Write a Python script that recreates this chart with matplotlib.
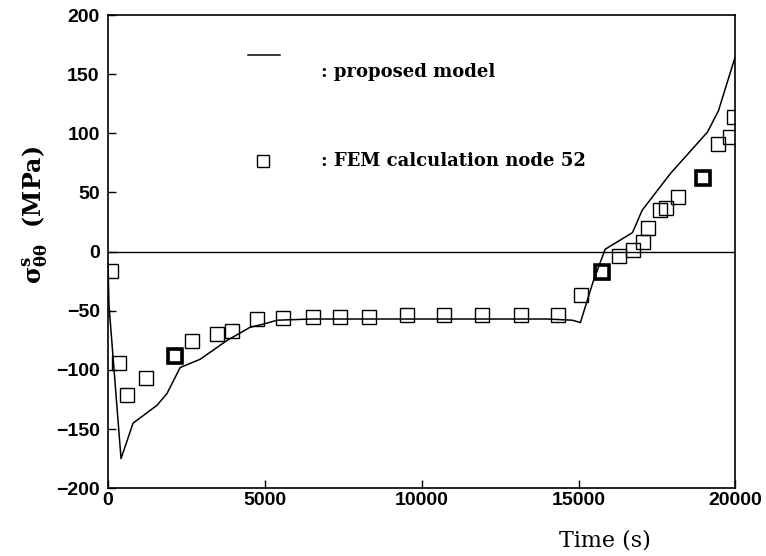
import numpy as np
import matplotlib.pyplot as plt

plt.rc('font', family='Liberation Sans', weight='bold', size=14)
plt.rc('mathtext', fontset='dejavuserif', default='bf')

# proposed model (line)
model_t = [0, 30, 415, 800, 1560, 1880, 2300, 2940, 3800, 4530, 5000, 5390,
           6500, 8000, 10000, 12000, 14000, 14800, 15060, 15470, 15850, 16720,
           17030, 17930, 19110, 19460, 19940, 20000]
model_s = [-10, -45, -175, -145, -130, -120, -98, -91, -75, -64, -61, -58,
           -57, -57, -57, -57, -57, -58, -60, -25, 2, 16,
           35, 66, 101, 119, 160, 165]

# FEM calculation node 52 (squares)
fem_t = [100, 350, 610, 1210, 2140, 2690, 3470, 3950, 4750, 5590, 6550, 7400,
         8330, 9540, 10720, 11930, 13170, 14360, 15090, 15760, 16300, 16750,
         17070, 17230, 17610, 17800, 18180, 18980, 19460, 19840, 19950]
fem_s = [-16, -94, -121, -107, -88, -76, -70, -67, -57, -56, -55, -55,
         -55, -54, -54, -54, -54, -54, -37, -17, -4, 1,
         8, 20, 35, 37, 46, 62, 91, 97, 114]
fem_bold = [2140, 15760, 18980]

fig = plt.figure(figsize=(7.66, 5.56), dpi=100)
ax = fig.add_axes([0.141, 0.122, 0.819, 0.851])

ax.axhline(0, color='black', linewidth=1.0, zorder=1)
ax.plot(model_t, model_s, color='black', linewidth=1.1, zorder=2)

ax.plot(fem_t, fem_s, linestyle='none', marker='s', markersize=10,
        markerfacecolor='none', markeredgecolor='black', markeredgewidth=1.0, zorder=3)
bt = [t for t in fem_t if t in fem_bold]
bs = [s for t, s in zip(fem_t, fem_s) if t in fem_bold]
ax.plot(bt, bs, linestyle='none', marker='s', markersize=10,
        markerfacecolor='none', markeredgecolor='black', markeredgewidth=2.6, zorder=4)

# hand-made legend
ax.plot([4470, 5490], [166, 166], color='black', linewidth=1.1)
ax.text(6800, 152, ': proposed model', family='DejaVu Serif', weight='bold',
        fontsize=13, va='center', ha='left')
ax.plot([4950], [77], linestyle='none', marker='s', markersize=8,
        markerfacecolor='none', markeredgecolor='black', markeredgewidth=1.0)
ax.text(6800, 77, ': FEM calculation node 52', family='DejaVu Serif', weight='bold',
        fontsize=13, va='center', ha='left')

ax.set_xlim(0, 20000)
ax.set_ylim(-200, 200)
ax.set_xticks([0, 5000, 10000, 15000, 20000])
ax.set_yticks([-200, -150, -100, -50, 0, 50, 100, 150, 200])
ax.tick_params(direction='in', length=6, width=1.0)
ax.tick_params(axis='x', pad=3)
ax.tick_params(axis='y', pad=6)
for sp in ax.spines.values():
    sp.set_linewidth(1.2)

fig.text(605 / 766, 1 - 540 / 556, 'Time (s)', family='DejaVu Serif',
         fontsize=16, ha='center', va='center', weight='normal')
fig.text(35 / 766, 1 - 215 / 556, r'$\sigma^{s}_{\theta\theta}$  (MPa)',
         family='DejaVu Serif', weight='bold', fontsize=17, rotation=90,
         ha='center', va='center')

fig.savefig('out.png', dpi=100)
